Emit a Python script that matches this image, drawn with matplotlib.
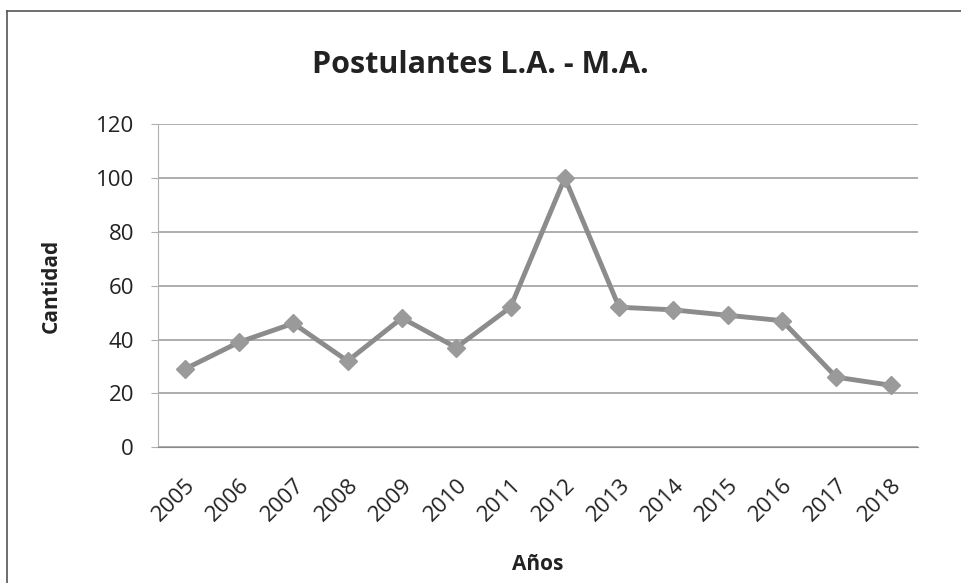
import matplotlib.pyplot as plt
from matplotlib.lines import Line2D

plt.rcParams['font.family'] = ['Open Sans', 'DejaVu Sans']

years = ['2005', '2006', '2007', '2008', '2009', '2010', '2011',
         '2012', '2013', '2014', '2015', '2016', '2017', '2018']
postulantes = [29, 39, 46, 32, 48, 37, 52, 100, 52, 51, 49, 47, 26, 23]

fig = plt.figure(figsize=(9.61, 5.83), dpi=100)
ax = fig.add_axes([0.164, 0.233, 0.791, 0.554])

x = range(len(years))
ax.plot(x, postulantes, color='#8c8c8c', linewidth=3.5,
        marker='D', markersize=9, markerfacecolor='#9a9a9a',
        markeredgecolor='#9a9a9a', zorder=3)

ax.set_xlim(-0.5, len(years) - 0.5)
ax.set_ylim(0, 120)
ax.set_yticks(range(0, 121, 20))
ax.set_xticks(list(x))
ax.set_xticklabels(years, rotation=45, ha='right', rotation_mode='anchor')

ax.grid(axis='y', color='#a0a0a0', linewidth=1.2)
ax.set_axisbelow(True)
for side in ['top', 'right']:
    ax.spines[side].set_visible(False)
ax.spines['left'].set_color('#b0b0b0')
ax.spines['bottom'].set_color('#8a8a8a')
ax.spines['bottom'].set_linestyle((0, (1, 1)))
ax.tick_params(axis='both', labelsize=16, colors='#222222', length=0)
ax.tick_params(axis='x', pad=20)
ax.tick_params(axis='y', length=5, color='#b0b0b0', pad=12)

fig.text(0.5, 1 - 65 / 583, 'Postulantes L.A. - M.A.', fontsize=22,
         fontweight='bold', color='#222222', ha='center', va='center')
ax.set_ylabel('Cantidad', fontsize=15, fontweight='bold', color='#222222')
ax.yaxis.set_label_coords(-0.126, 0.5)
ax.set_xlabel('Años', fontsize=15, fontweight='bold', color='#222222')
ax.xaxis.set_label_coords(0.5, -0.33)

# outer chart border (left and top edges visible in scan)
fig.add_artist(Line2D([0.0073, 0.0073], [0, 0.981], transform=fig.transFigure,
                      color='#555555', linewidth=1.2))
fig.add_artist(Line2D([0.0073, 1.0], [0.981, 0.981], transform=fig.transFigure,
                      color='#555555', linewidth=1.2))

fig.savefig('out.png', dpi=100)
